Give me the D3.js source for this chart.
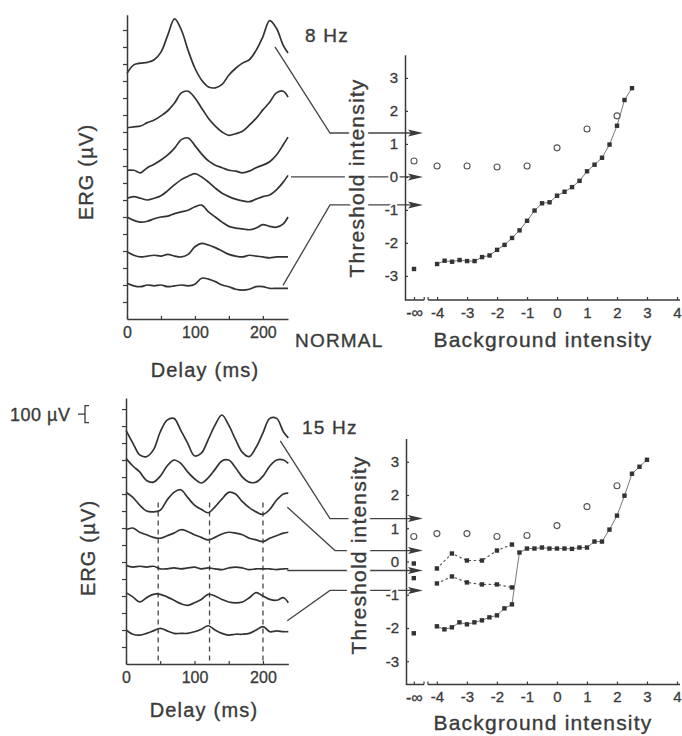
<!DOCTYPE html>
<html><head><meta charset="utf-8">
<script src="https://cdn.jsdelivr.net/npm/d3@7"></script>
<style>
body{margin:0;background:#fff}
svg{display:block;background:#fff}
text{font-family:"Liberation Sans",Arial,Helvetica,sans-serif;fill:#3a3a3a}
</style>
</head><body><svg id="c" width="682" height="736"></svg>
<script>
// ---------------- DATA ----------------
const times = [0,10,20,30,40,50,60,70,80,90,100,110,120,130,140,150,160,170,180,190,200,210,220,230,237];
// ERG traces (µV, stacked), 8 Hz, normal
const traces8 = [
  [1445,1495,1505,1510,1525,1570,1670,1765,1700,1580,1475,1405,1365,1360,1380,1435,1475,1505,1525,1580,1660,1755,1710,1610,1565],
  [1125,1130,1135,1155,1170,1195,1225,1270,1330,1340,1300,1240,1180,1135,1100,1080,1090,1105,1140,1180,1230,1275,1330,1340,1305],
  [875,875,860,890,910,935,965,1005,1055,1065,1020,970,930,905,890,875,870,860,870,890,905,925,965,1025,1070],
  [710,720,710,700,710,725,755,790,820,840,855,835,805,770,740,720,705,695,690,705,720,730,760,805,845],
  [600,580,570,575,590,600,605,620,630,640,660,670,630,600,570,545,535,530,525,535,555,545,540,560,600],
  [395,375,365,370,375,370,380,370,365,380,425,445,435,420,400,380,370,365,375,370,365,360,365,365,365],
  [210,195,190,200,195,200,190,195,200,195,205,240,235,220,200,190,175,170,175,190,190,180,180,180,180]
];
// ERG traces (µV, stacked), 15 Hz
const traces15 = [
  [1375,1300,1230,1220,1260,1365,1435,1445,1375,1300,1225,1240,1320,1405,1465,1405,1320,1245,1220,1275,1360,1445,1445,1365,1330],
  [1210,1165,1130,1080,1070,1105,1165,1200,1180,1130,1090,1065,1095,1145,1195,1200,1155,1100,1070,1070,1105,1165,1200,1200,1180],
  [1010,980,935,900,895,905,965,1010,1025,980,935,910,890,925,970,1010,1000,955,920,895,880,910,965,1000,1005],
  [790,800,775,760,745,740,755,770,790,780,760,745,730,745,765,775,770,760,740,730,720,740,755,770,775],
  [580,570,575,570,575,560,560,565,560,565,570,560,565,560,555,565,570,565,555,560,560,560,555,560,560],
  [420,395,365,390,410,410,395,375,355,345,360,380,410,400,380,365,360,365,390,420,400,380,375,390,360],
  [200,175,170,180,195,210,195,180,180,180,190,205,225,200,180,170,175,175,180,200,220,190,195,190,190]
];
const dashTimes15 = [47,122,200];
const dashTopUV = 950;
const ergTickVals8 = [100,200,300,400,500,600,700,800,900,1000,1100,1200,1300,1400,1500,1600,1700];
const ergTickVals15 = [100,200,300,400,500,600,700,800,900,1000,1100,1200,1300,1400,1500];
const delayTicks = [0,50,100,150,200];
const delayLabels = [0,100,200];
const scaleBarUV = [1520,1420];

// Threshold vs background intensity
const NEG_INF = -4.77;               // plotting position of "-∞"
const bgTicks = [NEG_INF,-4,-3,-2,-1,0,1,2,3,4];
const thrTicks = [-3,-2,-1,0,1,2,3];

// 8 Hz normal
const open8X = [NEG_INF,-4,-3,-2,-1,0,1,2];
const open8Y = [0.48,0.33,0.33,0.30,0.33,0.88,1.45,1.85];
const inf8Y = [-2.79];
const solid8X = [-4,-3.75,-3.5,-3.25,-3,-2.75,-2.5,-2.25,-2,-1.75,-1.5,-1.25,-1,-0.75,-0.5,-0.25,0,0.25,0.5,0.75,1,1.25,1.5,1.75,2,2.25,2.5];
const solid8Y = [-2.64,-2.54,-2.57,-2.52,-2.55,-2.55,-2.43,-2.38,-2.21,-2.06,-1.85,-1.62,-1.33,-1.02,-0.80,-0.77,-0.57,-0.45,-0.31,-0.12,0.17,0.37,0.58,0.98,1.55,2.33,2.69];
const arrows8 = [1.33,0,-0.85];

// 15 Hz
const open15X = [NEG_INF,-4,-3,-2,-1,0,1,2];
const open15Y = [0.75,0.84,0.84,0.75,0.78,1.08,1.65,2.28];
const inf15Y = [-0.06,-0.50,-2.16];
const dotX = [-4,-3.5,-3,-2.5,-2,-1.5];
const dotAY = [-0.21,0.24,0.03,0.03,0.33,0.51];
const dotBY = [-0.66,-0.45,-0.63,-0.69,-0.69,-0.78];
const solid15X = [-4,-3.75,-3.5,-3.25,-3,-2.75,-2.5,-2.25,-2,-1.75,-1.5,-1.25,-1,-0.75,-0.5,-0.25,0,0.25,0.5,0.75,1,1.25,1.5,1.75,2,2.25,2.5,2.75,3];
const solid15Y = [-1.95,-2.04,-1.98,-1.83,-1.89,-1.83,-1.77,-1.68,-1.62,-1.41,-1.29,0.27,0.39,0.39,0.42,0.39,0.39,0.39,0.38,0.42,0.42,0.60,0.60,0.96,1.38,1.98,2.64,2.85,3.06];
const arrows15 = [1.29,0.33,-0.27,-0.87];

// ---------------- DRAWING ----------------
const svg = d3.select("#c");
const INK = "#3a3a3a";
const LABEL_FONT = "\"Liberation Sans\",Arial,Helvetica,sans-serif";

function styleAxis(g, fs){
  g.attr("font-family", LABEL_FONT).attr("font-size", fs);
  g.select(".domain").attr("stroke", INK).attr("stroke-width", 1.5);
  g.selectAll(".tick line").attr("stroke", INK).attr("stroke-width", 1.2);
  g.selectAll(".tick text").attr("fill", INK).attr("stroke", INK).attr("stroke-width", 0.3);
}

function ergPanel(traces, xS, yS, tickVals){
  const g = svg.append("g");
  const line = d3.line().x((d,i)=>xS(times[i])).y(d=>yS(d)).curve(d3.curveCatmullRom.alpha(0.5));
  traces.forEach(tr=>{
    g.append("path").attr("d", line(tr)).attr("fill","none")
      .attr("stroke","#333").attr("stroke-width",1.7).attr("stroke-linejoin","round");
  });
  const ya = g.append("g").attr("transform",`translate(${xS(0)},0)`)
    .call(d3.axisLeft(yS).tickValues(tickVals).tickSize(4).tickSizeOuter(0).tickFormat(""));
  styleAxis(ya, 16);
  const xa = g.append("g").attr("transform",`translate(0,${yS(0)})`)
    .call(d3.axisBottom(xS).tickValues(delayTicks).tickSize(-3).tickSizeOuter(0).tickPadding(7.5)
      .tickFormat(d=> delayLabels.includes(d) ? d : ""));
  styleAxis(xa, 16);
  return g;
}

// ERG scales
const xE8 = d3.scaleLinear([0,237],[127,288]);
const yE8 = d3.scaleLinear([0,1790],[319,14.7]);
const xE15 = d3.scaleLinear([0,237],[126,288.3]);
const yE15 = d3.scaleLinear([0,1565],[664,398]);

// threshold scales
const xB8 = d3.scaleLinear([-5.07,4.1],[405,680]);
const yT8 = d3.scaleLinear([-3.73,3.7],[300,54.8]);
const xB15 = d3.scaleLinear([-5.03,4.1],[406,680]);
const yT15 = d3.scaleLinear([-3.70,3.70],[684.5,438.5]);

// connectors (annotation lines from traces to arrows)
function connectors(g, traces, xS, yS, yT, levels, defs, tipX){
  defs.forEach(c=>{
    const tr = traces[c.trace];
    const ex = xS(times[times.length-1]), ey = yS(tr[tr.length-1]);
    const ay = yT(levels[c.level]);
    let pts;
    if (c.bendX === null) pts = [[ex+c.dx, ay],[tipX-12, ay]];
    else pts = [[ex+c.dx, ey+c.dy],[c.bendX, ay],[tipX-12, ay]];
    g.append("path").attr("d", d3.line()(pts)).attr("fill","none")
      .attr("stroke","#444").attr("stroke-width",1.3);
  });
}
function arrowHeads(g, yT, levels, tipX){
  levels.forEach(v=>{
    const y = yT(v);
    g.append("path").attr("d",`M${tipX},${y}L${tipX-15},${y-3.5}L${tipX-12},${y}L${tipX-15},${y+3.5}Z`)
      .attr("fill","#3a3a3a");
  });
}

function thresholdAxes(g, xB, yT, xBreak){
  const x0 = xB.range()[0], yAxisY = yT.range()[0];
  const xa = g.append("g").attr("transform",`translate(0,${yAxisY})`)
    .call(d3.axisBottom(xB).tickValues(bgTicks).tickSize(-3).tickSizeOuter(0).tickPadding(7)
      .tickFormat(d=> d===NEG_INF ? "-\u221e" : String(d)));
  styleAxis(xa, 15);
  xa.selectAll(".tick text").filter(d=>d===NEG_INF).attr("font-size",16);
  xa.select(".domain").remove();
  g.append("line").attr("x1",x0).attr("x2",xB(xBreak[0])).attr("y1",yAxisY).attr("y2",yAxisY)
    .attr("stroke",INK).attr("stroke-width",1.5);
  g.append("line").attr("x1",xB(xBreak[1])).attr("x2",xB.range()[1]).attr("y1",yAxisY).attr("y2",yAxisY)
    .attr("stroke",INK).attr("stroke-width",1.5);
  xBreak.forEach(b=> g.append("line").attr("x1",xB(b)).attr("x2",xB(b)).attr("y1",yAxisY).attr("y2",yAxisY-3)
    .attr("stroke",INK).attr("stroke-width",1.2));
  const ya = g.append("g").attr("transform",`translate(${x0},0)`)
    .call(d3.axisLeft(yT).tickValues(thrTicks).tickSize(-3).tickSizeOuter(0).tickPadding(7)
      .tickFormat(d=>String(d)));
  styleAxis(ya, 15);
  // white halo copies behind y tick labels (they interrupt the arrow lines)
  ya.selectAll(".tick").each(function(){
    const tk = d3.select(this), tx = tk.select("text");
    tk.insert("text","text").attr("x",tx.attr("x")).attr("dy",tx.attr("dy"))
      .attr("fill","#fff").attr("stroke","#fff").attr("stroke-width",4).text(tx.text());
  });
}

function bigLabel(x, y, txt, fs, rotate, anchor, halo){
  const mk = ()=>{
    const t = svg.append("text").attr("font-size",fs).attr("letter-spacing","1.2px")
      .attr("text-anchor", anchor||"middle").text(txt);
    if (rotate) t.attr("transform",`translate(${x},${y}) rotate(-90)`).attr("dy","0.36em");
    else t.attr("x",x).attr("y",y);
    return t;
  };
  if (halo) mk().attr("fill","#fff").attr("stroke","#fff").attr("stroke-width",8);
  return mk().attr("fill",INK).attr("stroke",INK).attr("stroke-width",0.35);
}

function points(g, xs, ys, xB, yT, kind){
  xs.forEach((x,i)=>{
    if (kind==="open"){
      g.append("circle").attr("cx",xB(x)).attr("cy",yT(ys[i])).attr("r",3)
        .attr("fill","#fff").attr("stroke","#555").attr("stroke-width",1.1);
    } else {
      g.append("rect").attr("x",xB(x)-2.2).attr("y",yT(ys[i])-2.2).attr("width",4.4).attr("height",4.4)
        .attr("fill","#333");
    }
  });
}

// ---------- TOP (8 Hz, NORMAL) ----------
const gTop = svg.append("g");
const tip8 = xB8.range()[0] + 18;
connectors(gTop, traces8, xE8, yE8, yT8, arrows8, [
  {trace:0, level:0, dx:-13, dy:-6, bendX:330},
  {trace:3, level:1, dx:3, dy:0, bendX:null},
  {trace:6, level:2, dx:-5, dy:-3, bendX:330}
], tip8);
ergPanel(traces8, xE8, yE8, ergTickVals8);
thresholdAxes(gTop, xB8, yT8, [-4.43,-4.3]);
gTop.append("path").attr("d", d3.line().x((d,i)=>xB8(solid8X[i])).y(d=>yT8(d))(solid8Y))
  .attr("fill","none").attr("stroke","#777").attr("stroke-width",1);
points(gTop, open8X, open8Y, xB8, yT8, "open");
points(gTop, inf8Y.map(()=>NEG_INF), inf8Y, xB8, yT8, "fill");
points(gTop, solid8X, solid8Y, xB8, yT8, "fill");
arrowHeads(gTop, yT8, arrows8, tip8);

bigLabel(86, 172, "ERG (\u00b5V)", 20, true);
bigLabel(356, 178, "Threshold intensity", 21, true, "middle", true);
bigLabel(305, 42, "8 Hz", 19, false, "start");
bigLabel(295, 347, "NORMAL", 19, false, "start");
bigLabel(543, 347, "Background intensity", 21, false);
bigLabel(205, 377, "Delay (ms)", 20, false);

// ---------- BOTTOM (15 Hz) ----------
const gBot = svg.append("g");
const tip15 = xB15.range()[0] + 17;
connectors(gBot, traces15, xE15, yE15, yT15, arrows15, [
  {trace:0, level:0, dx:-8, dy:3, bendX:330},
  {trace:2, level:1, dx:-1, dy:14, bendX:335},
  {trace:4, level:2, dx:-1, dy:0, bendX:null},
  {trace:6, level:3, dx:-1, dy:-11, bendX:330}
], tip15);
dashTimes15.forEach(t=>{
  gBot.append("line").attr("x1",xE15(t)).attr("x2",xE15(t)).attr("y1",yE15(dashTopUV)).attr("y2",yE15(0))
    .attr("stroke","#444").attr("stroke-width",1.3).attr("stroke-dasharray","5,4");
});
ergPanel(traces15, xE15, yE15, ergTickVals15);
thresholdAxes(gBot, xB15, yT15, [-4.43,-4.3]);
gBot.append("path").attr("d", d3.line().x((d,i)=>xB15(solid15X[i])).y(d=>yT15(d))(solid15Y))
  .attr("fill","none").attr("stroke","#777").attr("stroke-width",1);
[dotAY, dotBY].forEach(ys=>{
  gBot.append("path").attr("d", d3.line().x((d,i)=>xB15(dotX[i])).y(d=>yT15(d))(ys))
    .attr("fill","none").attr("stroke","#555").attr("stroke-width",1.2)
    .attr("stroke-dasharray","1.5,3.5").attr("stroke-linecap","round");
});
points(gBot, open15X, open15Y, xB15, yT15, "open");
points(gBot, inf15Y.map(()=>NEG_INF), inf15Y, xB15, yT15, "fill");
points(gBot, dotX, dotAY, xB15, yT15, "fill");
points(gBot, dotX, dotBY, xB15, yT15, "fill");
points(gBot, solid15X, solid15Y, xB15, yT15, "fill");
arrowHeads(gBot, yT15, arrows15, tip15);

bigLabel(88, 548, "ERG (\u00b5V)", 20, true);
bigLabel(358, 555, "Threshold intensity", 21, true, "middle", true);
bigLabel(302, 434, "15 Hz", 19, false, "start");
bigLabel(543, 730, "Background intensity", 21, false);
bigLabel(204, 717, "Delay (ms)", 20, false);

// 100 µV scale bar
bigLabel(10, 421, "100 \u00b5V", 18, false, "start").attr("letter-spacing","0.5px");
const sb0 = yE15(scaleBarUV[0]), sb1 = yE15(scaleBarUV[1]);
svg.append("path").attr("d",`M78,${(sb0+sb1)/2}H85M89,${sb0}H85V${sb1}H89`)
  .attr("fill","none").attr("stroke",INK).attr("stroke-width",1.3);
</script>
</body></html>
